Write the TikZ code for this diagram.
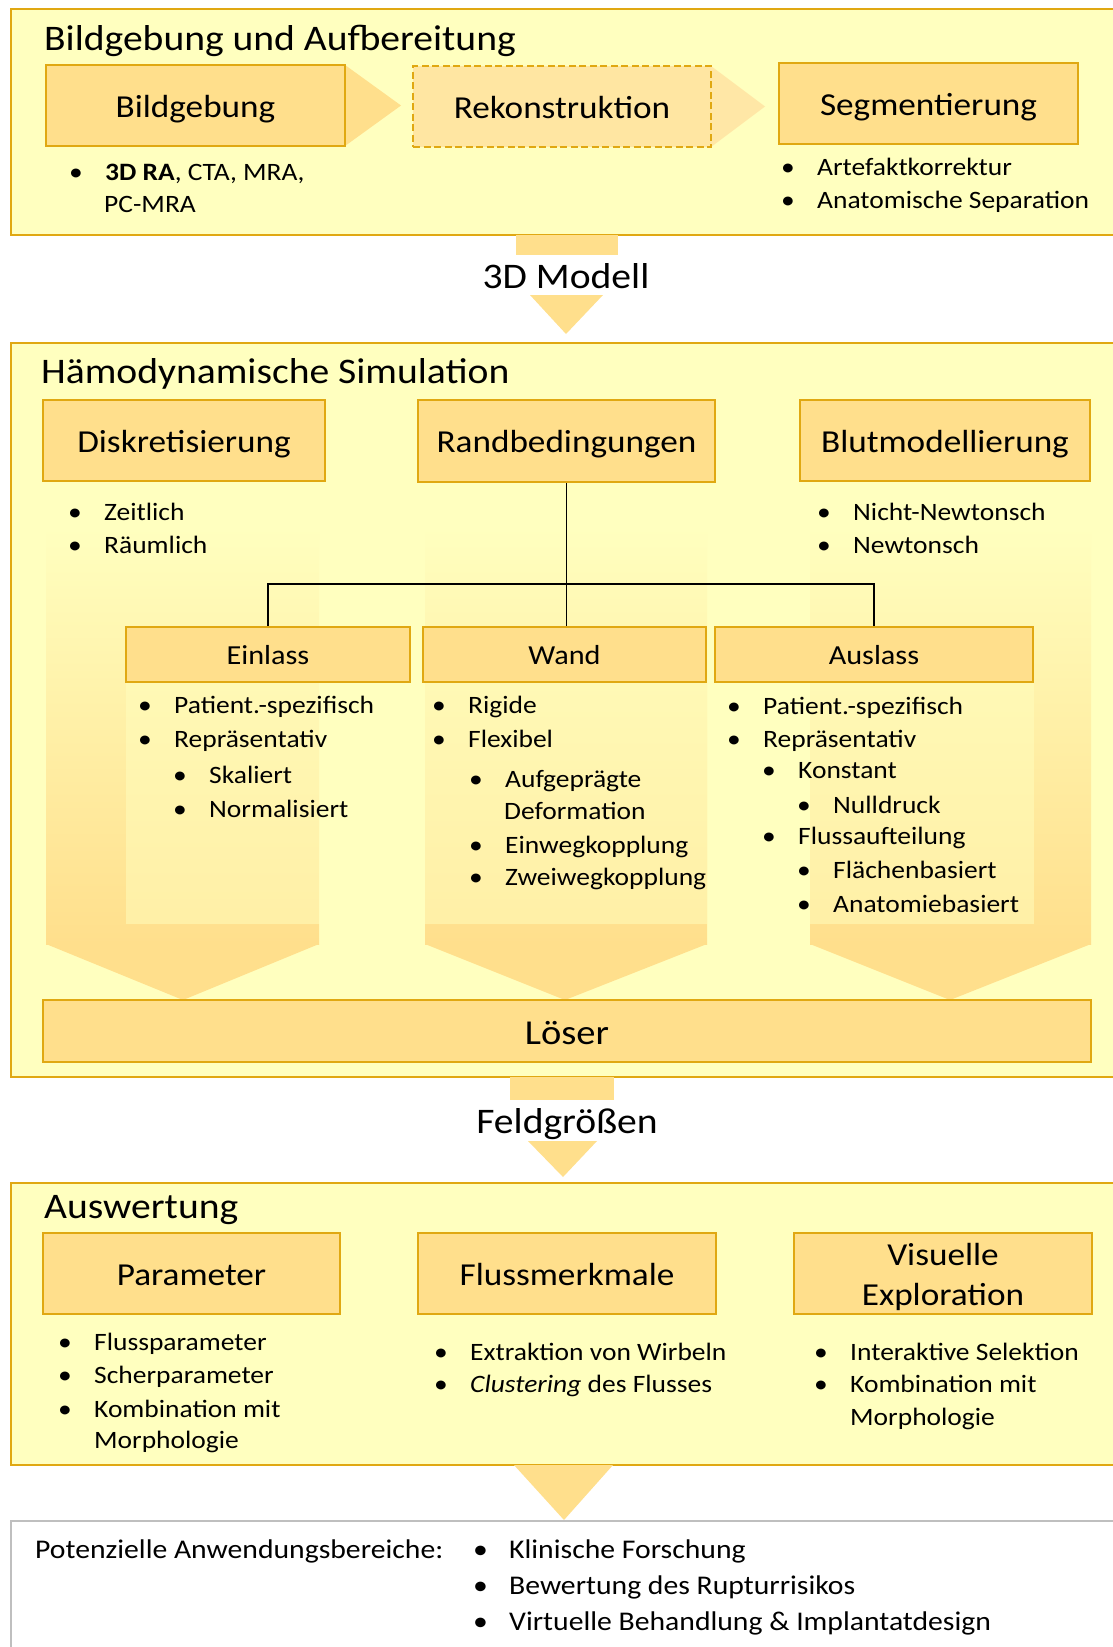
\documentclass[tikz,border=0pt]{standalone}
\usepackage{fontspec}
\setmainfont{Carlito}[FakeStretch=1.1]
\definecolor{bgy}{HTML}{FFFFBF}
\definecolor{gold}{HTML}{E0A812}
\definecolor{boxf}{HTML}{FFDF8C}
\definecolor{rekf}{HTML}{FFE6A2}
\definecolor{arrA}{HTML}{FFDF8C}
\definecolor{arrB}{HTML}{FFE7A6}
\definecolor{grayb}{HTML}{BFBFBF}
\newcommand{\myb}{\makebox[30pt][l]{\hspace*{-6pt}•}}
\begin{document}
\begin{tikzpicture}[x=1pt,y=-1pt,
  outer/.style={draw=gold, fill=bgy, line width=2.5pt},
  box/.style={draw=gold, fill=boxf, line width=2.5pt, inner sep=0pt, text height=23pt, text depth=0pt, font=\fontsize{32}{38}\selectfont},
  subbox/.style={box, text height=19pt, font=\fontsize{27.5}{33}\selectfont},
  ttl/.style={anchor=base west, inner sep=0pt, font=\fontsize{36}{43}\selectfont},
  mid/.style={anchor=base, inner sep=0pt, font=\fontsize{36}{43}\selectfont},
  lbl/.style={anchor=base, inner sep=0pt, font=\fontsize{32}{38}\selectfont},
  itm/.style={anchor=base west, inner sep=0pt, font=\fontsize{25}{30}\selectfont},
  bitm/.style={itm, font=\fontsize{27}{32}\selectfont},
  conn/.style={draw=black, line width=1.3pt},
  flow/.style={fill=boxf},
  textrect/.style={fill=bgy, fill opacity=0.5},
  chev/.style={fill=boxf}
]
\useasboundingbox (0,0) rectangle (1112,1647);
\fill[white] (0,0) rectangle (1112,1647);

% ---------- Section 1 ----------
\draw[outer] (11,9) rectangle (1130,235);
\node[ttl] (t1) at (44,50) {Bildgebung und Aufbereitung};
\fill[arrA] (330,65) -- (345,65) -- (401,105.5) -- (345,146) -- (330,146) -- cycle;
\fill[arrB] (700,66) -- (711,66) -- (765,106.5) -- (711,147) -- (700,147) -- cycle;
\node[box, minimum width=299pt, minimum height=81pt] (bild) at (195.5,105.5) {Bildgebung};
\node[box, fill=rekf, dash pattern=on 7pt off 3.5pt, minimum width=298pt, minimum height=81pt] (rekon) at (562,106.5) {Rekonstruktion};
\node[box, minimum width=299pt, minimum height=81pt] (segm) at (928.5,103.5) {Segmentierung};
\node[itm] (b1a) at (75,180) {\myb\textbf{3D RA}, CTA, MRA,};
\node[itm] (b1b) at (104,212) {PC-MRA};
\node[itm] (s1a) at (787,175) {\myb Artefaktkorrektur};
\node[itm] (s1b) at (787,208) {\myb Anatomische Separation};

% connector 1
\fill[flow] (516,235) rectangle (618,255);
\node[mid] (m3d) at (566,288) {3D Modell};
\fill[flow] (530,295) -- (603,295) -- (566,334) -- cycle;

% ---------- Section 2 ----------
\draw[outer] (11,343) rectangle (1130,1077);
\node[ttl] (t2) at (41,383) {Hämodynamische Simulation};

% background chevrons
\shade[top color=bgy, bottom color=boxf] (46,527) rectangle (319,944.5);
\fill[chev] (46,944) -- (319,944) -- (183,1000) -- cycle;
\shade[top color=bgy, bottom color=boxf] (425,527) rectangle (707,944.5);
\fill[chev] (425,944) -- (707,944) -- (565,1000) -- cycle;
\shade[top color=bgy, bottom color=boxf] (810,527) rectangle (1091,944.5);
\fill[chev] (810,944) -- (1091,944) -- (950,1000) -- cycle;

% text rectangles
\fill[textrect] (126,682) rectangle (410,924);
\fill[textrect] (423,682) rectangle (707,924);
\fill[textrect] (715,682) rectangle (1034,924);

\node[box, minimum width=282pt, minimum height=81pt] (disk) at (184,440.5) {Diskretisierung};
\node[box, minimum width=297pt, minimum height=82pt] (rand) at (566.5,441) {Randbedingungen};
\node[box, minimum width=290pt, minimum height=81pt] (blut) at (945,440.5) {Blutmodellierung};

\node[itm] (d1) at (74,520) {\myb Zeitlich};
\node[itm] (d2) at (74,553) {\myb Räumlich};
\node[itm] (n1) at (823,520) {\myb Nicht-Newtonsch};
\node[itm] (n2) at (823,553) {\myb Newtonsch};

\node[subbox, minimum width=284pt, minimum height=55pt] (einl) at (268,654.5) {Einlass};
\node[subbox, minimum width=283pt, minimum height=55pt] (wand) at (564.5,654.5) {Wand};
\node[subbox, minimum width=318pt, minimum height=55pt] (ausl) at (874,654.5) {Auslass};

\coordinate (hb) at (566,584);
\draw[conn] (rand.south) -- (rand.south |- wand.north);
\draw[conn] (einl.north) |- (hb) -| (ausl.north);

% Einlass items
\node[itm] (e1) at (144,713) {\myb Patient.-spezifisch};
\node[itm] (e2) at (144,747) {\myb Repräsentativ};
\node[itm] (e3) at (179,783) {\myb Skaliert};
\node[itm] (e4) at (179,817) {\myb Normalisiert};
% Wand items
\node[itm] (w1) at (438,713) {\myb Rigide};
\node[itm] (w2) at (438,747) {\myb Flexibel};
\node[itm] (w3) at (475,787) {\myb Aufgeprägte};
\node[itm] (w3b) at (504,819) {Deformation};
\node[itm] (w4) at (475,853) {\myb Einwegkopplung};
\node[itm] (w5) at (475,885) {\myb Zweiwegkopplung};
% Auslass items
\node[itm] (a1) at (733,714) {\myb Patient.-spezifisch};
\node[itm] (a2) at (733,747) {\myb Repräsentativ};
\node[itm] (a3) at (768,778) {\myb Konstant};
\node[itm] (a4) at (803,813) {\myb Nulldruck};
\node[itm] (a5) at (768,844) {\myb Flussaufteilung};
\node[itm] (a6) at (803,878) {\myb Flächenbasiert};
\node[itm] (a7) at (803,912) {\myb Anatomiebasiert};

\node[box, minimum width=1048pt, minimum height=62pt, text height=26pt, font=\fontsize{35}{42}\selectfont] (loes) at (567,1031) {Löser};

% connector 2
\fill[flow] (510,1077) rectangle (614,1100);
\node[mid] (mfeld) at (567,1133) {Feldgrößen};
\fill[flow] (528,1141) -- (597,1141) -- (563,1177) -- cycle;

% ---------- Section 3 ----------
\draw[outer] (11,1183) rectangle (1130,1465);
\node[ttl] (t3) at (44,1218) {Auswertung};
\node[box, minimum width=297pt, minimum height=81pt] (param) at (191.5,1273.5) {Parameter};
\node[box, minimum width=298pt, minimum height=81pt] (fluss) at (567,1273.5) {Flussmerkmale};
\node[box, minimum width=298pt, minimum height=81pt] (visu) at (943,1273.5) {};
\node[lbl] (visu1) at (943,1265) {Visuelle};
\node[lbl] (visu2) at (943,1305) {Exploration};

\node[itm] (p1) at (64,1350) {\myb Flussparameter};
\node[itm] (p2) at (64,1383) {\myb Scherparameter};
\node[itm] (p3) at (64,1417) {\myb Kombination mit};
\node[itm] (p3b) at (94,1448) {Morphologie};
\node[itm] (f1) at (440,1360) {\myb Extraktion von Wirbeln};
\node[itm] (f2) at (440,1392) {\myb\textit{Clustering} des Flusses};
\node[itm] (v1) at (820,1360) {\myb Interaktive Selektion};
\node[itm] (v2) at (820,1392) {\myb Kombination mit};
\node[itm] (v2b) at (850,1425) {Morphologie};

\fill[flow] (514,1465) -- (613,1465) -- (564,1520) -- cycle;

% ---------- Bottom ----------
\draw[draw=grayb, fill=white, line width=2.5pt] (11,1521) rectangle (1130,1670);
\node[bitm] (pot) at (35,1558) {Potenzielle Anwendungsbereiche:};
\node[bitm] (u1) at (479,1558) {\myb Klinische Forschung};
\node[bitm] (u2) at (479,1594) {\myb Bewertung des Rupturrisikos};
\node[bitm] (u3) at (479,1630) {\myb Virtuelle Behandlung \& Implantatdesign};
\end{tikzpicture}
\end{document}
